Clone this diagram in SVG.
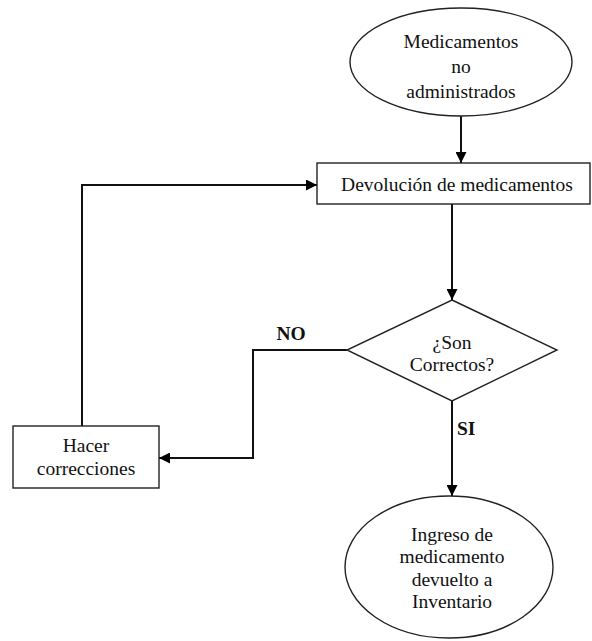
<svg xmlns="http://www.w3.org/2000/svg" width="592" height="641" viewBox="0 0 592 641">
<defs>
<marker id="arr" viewBox="0 0 10 10" refX="10" refY="5" markerWidth="11" markerHeight="11" markerUnits="userSpaceOnUse" orient="auto">
<path d="M0,0 L10,5 L0,10 Z" fill="#000"/>
</marker>
<style>
.shape{fill:#fff;stroke:#222;stroke-width:1.4}
.conn{fill:none;stroke:#111;stroke-width:2;marker-end:url(#arr)}
text{font-family:'Liberation Serif','DejaVu Serif',serif;font-size:19.5px;fill:#111}
.t{text-anchor:middle}
.b{font-weight:bold}
</style>
</defs>
<rect width="592" height="641" fill="#fff"/>
<g id="connectors">
<path class="conn" d="M461,116 L461,163"/>
<path class="conn" d="M82,426 L82,185 L317,185"/>
<path class="conn" d="M452,204 L452,300"/>
<path class="conn" d="M347,350 L253,350 L253,458 L159,458"/>
<path class="conn" d="M452,401 L452,496"/>
<text class="b" x="291" y="340" text-anchor="middle" font-family="Liberation Serif, serif">NO</text>
<text class="b" x="457" y="435" font-family="Liberation Serif, serif">SI</text>
</g>
<g id="start">
<ellipse class="shape" cx="461" cy="62" rx="111" ry="54"/>
<text class="t" x="461" y="48" font-family="Liberation Serif, serif">Medicamentos</text>
<text class="t" x="461" y="73" font-family="Liberation Serif, serif">no</text>
<text class="t" x="461" y="98" font-family="Liberation Serif, serif">administrados</text>
</g>
<g id="devolucion">
<rect class="shape" x="317" y="163" width="273" height="41"/>
<text class="t" x="457" y="191" font-family="Liberation Serif, serif">Devolución de medicamentos</text>
</g>
<g id="decision">
<polygon class="shape" points="452,300 557,350 452,401 347,350"/>
<text class="t" x="452" y="349" font-family="Liberation Serif, serif">¿Son</text>
<text class="t" x="452" y="371" font-family="Liberation Serif, serif">Correctos?</text>
</g>
<g id="correcciones">
<rect class="shape" x="13" y="426" width="146" height="62"/>
<text class="t" x="86" y="452" font-family="Liberation Serif, serif">Hacer</text>
<text class="t" x="86" y="475" font-family="Liberation Serif, serif">correcciones</text>
</g>
<g id="ingreso">
<ellipse class="shape" cx="449" cy="567" rx="104" ry="71"/>
<text class="t" x="452" y="541" font-family="Liberation Serif, serif">Ingreso de</text>
<text class="t" x="452" y="563" font-family="Liberation Serif, serif">medicamento</text>
<text class="t" x="452" y="586" font-family="Liberation Serif, serif">devuelto a</text>
<text class="t" x="452" y="608" font-family="Liberation Serif, serif">Inventario</text>
</g>
</svg>
